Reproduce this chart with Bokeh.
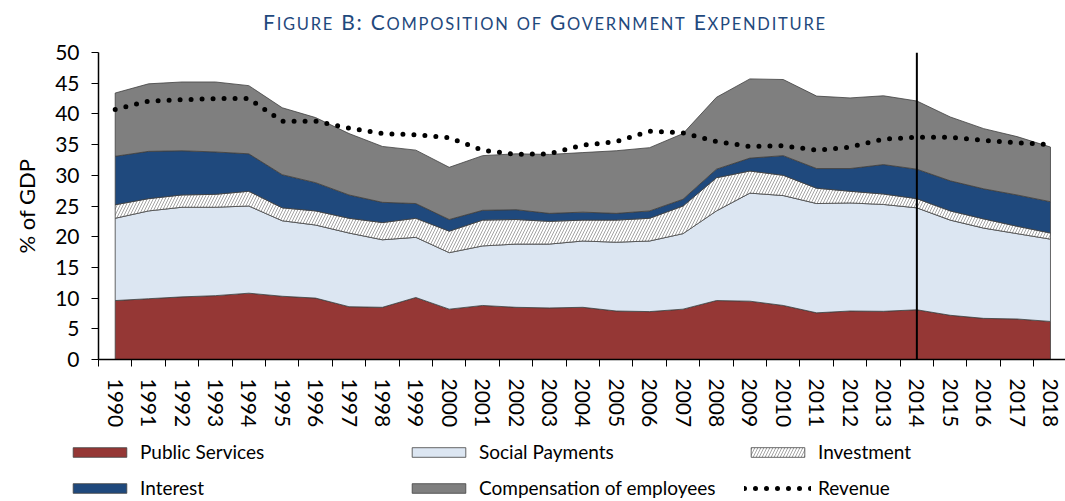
from bokeh.plotting import figure
from bokeh.models import Range1d, FixedTicker, Span, Legend, LegendItem, Div
from bokeh.layouts import column, row
from bokeh.embed import file_html
from bokeh.resources import INLINE

# ---------------- data (% of GDP) ----------------
years = list(range(1990, 2019))
public_services = [9.6, 9.9, 10.2, 10.4, 10.8, 10.3, 10.0, 8.6, 8.5, 10.1, 8.2, 8.8, 8.5, 8.4, 8.5,
                   7.9, 7.8, 8.2, 9.6, 9.5, 8.8, 7.6, 7.9, 7.85, 8.1, 7.2, 6.7, 6.6, 6.2]
social_payments = [13.4, 14.3, 14.6, 14.4, 14.2, 12.3, 11.9, 12.0, 11.0, 9.8, 9.2, 9.7, 10.3, 10.4, 10.8,
                   11.2, 11.5, 12.3, 14.6, 17.6, 17.9, 17.8, 17.6, 17.4, 16.6, 15.5, 14.7, 13.9, 13.4]
investment = [2.2, 2.0, 2.0, 2.1, 2.4, 2.1, 2.3, 2.4, 2.8, 3.1, 3.5, 4.2, 4.0, 3.7, 3.4,
              3.6, 3.7, 4.5, 5.4, 3.6, 3.3, 2.5, 1.9, 1.7, 1.5, 1.5, 1.5, 1.2, 1.0]
interest = [7.9, 7.7, 7.2, 6.9, 6.1, 5.4, 4.6, 3.8, 3.3, 2.4, 1.9, 1.6, 1.6, 1.3, 1.3,
            1.1, 1.2, 1.1, 1.4, 2.1, 3.2, 3.2, 3.7, 4.8, 4.8, 4.9, 4.9, 5.1, 5.1]
compensation = [10.3, 11.0, 11.2, 11.4, 11.1, 10.9, 10.6, 10.0, 9.1, 8.7, 8.5, 8.9, 9.1, 9.6, 9.7,
                10.2, 10.3, 10.7, 11.7, 12.9, 12.4, 11.8, 11.5, 11.2, 11.1, 10.4, 9.8, 9.5, 8.9]
revenue = [40.7, 42.1, 42.3, 42.5, 42.5, 38.8, 38.8, 37.7, 36.8, 36.6, 36.1, 34.1, 33.4, 33.5, 34.9,
           35.5, 37.2, 36.9, 35.5, 34.7, 34.8, 34.1, 34.6, 35.9, 36.2, 36.2, 35.7, 35.3, 35.0]
y_ticks = list(range(0, 51, 5))
marker_year = 2014

hatch = dict(hatch_pattern="right_diagonal_line", hatch_color="#8C8C8C", hatch_scale=6, hatch_weight=0.8)
series = [
    ("Public Services", public_services, "#953735", {}),
    ("Social Payments", social_payments, "#DCE6F2", {}),
    ("Investment", investment, "#FFFFFF", hatch),
    ("Interest", interest, "#1F497D", {}),
    ("Compensation of employees", compensation, "#7F7F7F", {}),
]
LINE_COL = "#404040"
FONT = "Lato"
W = 1065


def stacked_patches(fig):
    rends = []
    base = [0.0] * len(years)
    for name, vals, color, extra in series:
        top = [b + v for b, v in zip(base, vals)]
        xs = years + years[::-1]
        ys = top + base[::-1]
        rends.append(fig.patch(xs, ys, fill_color=color, line_color=LINE_COL, line_width=0.8, **extra))
        base = top
    rends.append(fig.line(years, revenue, line_color="black", line_width=5,
                          line_dash="0 11", line_cap="round"))
    return rends


# ---------------- main chart ----------------
p = figure(width=W, height=392,
           x_range=Range1d(1989.5, 2018.45), y_range=Range1d(0, 50),
           output_backend="svg", toolbar_location=None,
           min_border_left=98, min_border_right=0, min_border_top=14, min_border_bottom=70)
p.outline_line_color = None
p.xgrid.visible = False
p.ygrid.visible = False

stacked_patches(p)
p.add_layout(Span(location=marker_year, dimension="height", line_color="black", line_width=2))

xa = p.xaxis[0]
xa.ticker = FixedTicker(ticks=years, minor_ticks=[y - 0.5 for y in years] + [years[-1] + 0.5])
xa.major_tick_line_color = None
xa.major_tick_out = 7
xa.major_tick_in = 0
xa.minor_tick_out = 7
xa.minor_tick_in = 0
xa.minor_tick_line_color = "black"
xa.major_label_orientation = "vertical"
xa.major_label_standoff = 12
xa.major_label_text_font = FONT
xa.major_label_text_font_size = "21px"
xa.major_label_text_color = "black"
xa.axis_line_color = "black"
xa.axis_line_width = 1.5

ya = p.yaxis[0]
ya.ticker = FixedTicker(ticks=y_ticks)
ya.major_tick_out = 7
ya.major_tick_in = 0
ya.minor_tick_line_color = None
ya.major_label_standoff = 12
ya.major_label_text_font = FONT
ya.major_label_text_font_size = "21px"
ya.major_label_text_color = "black"
ya.axis_line_color = "black"
ya.axis_line_width = 1.5
ya.axis_label = "% of GDP"
ya.axis_label_text_font = FONT
ya.axis_label_text_font_size = "22px"
ya.axis_label_text_font_style = "normal"
ya.axis_label_text_color = "black"
ya.axis_label_standoff = 12

# ---------------- legend strip (same data, drawn outside its visible range) ----------------
lg = figure(width=W, height=71, x_range=Range1d(0, 1), y_range=Range1d(0, 1),
            output_backend="svg", toolbar_location=None,
            x_axis_location=None, y_axis_location=None,
            min_border_left=0, min_border_right=0, min_border_top=0, min_border_bottom=0)
lg.outline_line_color = None
lg.xgrid.visible = False
lg.ygrid.visible = False

rends = stacked_patches(lg)
labels = [s[0] for s in series] + ["Revenue"]
items = [LegendItem(label=lab, renderers=[r]) for lab, r in zip(labels, rends)]

legend = Legend(items=items, location=(66, 2), orientation="horizontal", ncols=3,
                glyph_width=67, glyph_height=12, label_width=252, label_standoff=7,
                spacing=13, padding=0, margin=0,
                border_line_color=None, background_fill_alpha=0,
                label_text_font=FONT, label_text_font_size="19px", label_text_color="black")
lg.add_layout(legend, "center")

# ---------------- title ----------------
S = 'font-size:16.5px;'
def sc(big, small):
    return big + '<span style="%s">%s</span>' % (S, small)

title_html = ('<div style="font-family:Lato; font-size:21px; line-height:21px; letter-spacing:1.76px; '
              'color:#1F497D; white-space:nowrap; position:relative; left:263px; top:11px;">'
              + sc("F", "IGURE") + " B: " + sc("C", "OMPOSITION") + ' <span style="%s">OF</span> ' % S
              + sc("G", "OVERNMENT") + " " + sc("E", "XPENDITURE") + '</div>')
title = Div(text=title_html, width=W, height=38, margin=0)

layout = column(title, p, row(lg), spacing=0)
open("out.html", "w").write(file_html(layout, INLINE))
